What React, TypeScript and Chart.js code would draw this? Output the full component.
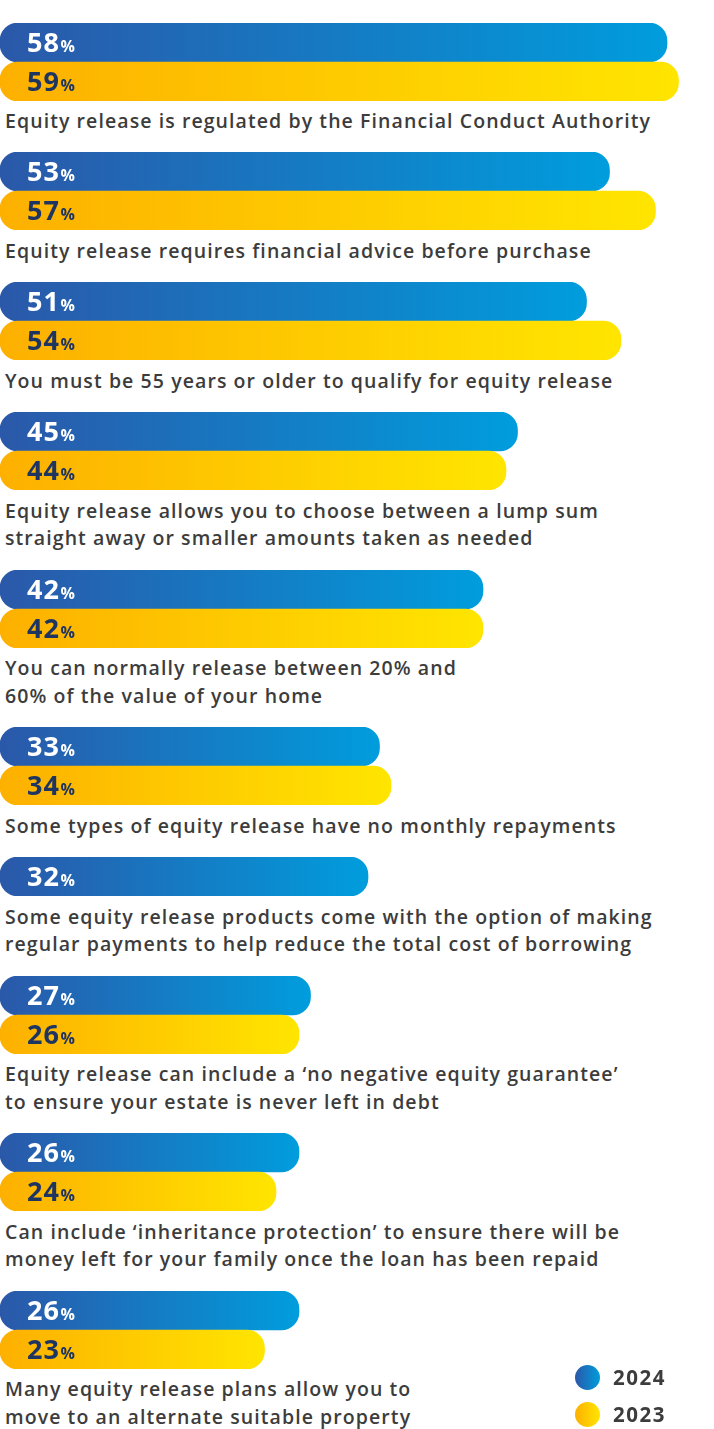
import React, { useEffect, useRef } from "react";
import { Chart, registerables } from "chart.js";

Chart.register(...registerables);

const categories: string[] = [
  "Equity release is regulated by the Financial Conduct Authority",
  "Equity release requires financial advice before purchase",
  "You must be 55 years or older to qualify for equity release",
  "Equity release allows you to choose between a lump sum\nstraight away or smaller amounts taken as needed",
  "You can normally release between 20% and\n60% of the value of your home",
  "Some types of equity release have no monthly repayments",
  "Some equity release products come with the option of making\nregular payments to help reduce the total cost of borrowing",
  "Equity release can include a \u2018no negative equity guarantee\u2019\nto ensure your estate is never left in debt",
  "Can include \u2018inheritance protection\u2019 to ensure there will be\nmoney left for your family once the loan has been repaid",
  "Many equity release plans allow you to\nmove to an alternate suitable property",
];

const seriesNames: string[] = ["2024", "2023"];
const values2024: (number | null)[] = [58, 53, 51, 45, 42, 33, 32, 27, 26, 26];
const values2023: (number | null)[] = [59, 57, 54, 44, 42, 34, null, 26, 24, 23];

const BAR_H = 39;
const WIDTH = 714;
const PX_PER_PCT = 11.5;
const FONT = '"Open Sans", "DejaVu Sans", sans-serif';

const gradStops: [string, string][] = [
  ["#2b58a9", "#009ddd"],
  ["#fdb000", "#ffe500"],
];
const labelColors = ["#ffffff", "#1e3461"];

const labelPlugin = {
  id: "barLabels",
  afterDatasetsDraw(chart: any) {
    const ctx = chart.ctx;
    const meta = chart.getDatasetMeta(0);
    const ds = chart.data.datasets[0];
    meta.data.forEach((el: any, i: number) => {
      const v = ds.data[i];
      const s = ds.series[i];
      const y = el.y + 9.8;
      ctx.save();
      ctx.fillStyle = labelColors[s];
      ctx.textBaseline = "alphabetic";
      ctx.textAlign = "left";
      try { (ctx as any).letterSpacing = "1px"; } catch (e) {}
      ctx.font = `700 27px ${FONT}`;
      const t = String(v);
      ctx.fillText(t, 27, y);
      const w = ctx.measureText(t).width;
      try { (ctx as any).letterSpacing = "0px"; } catch (e) {}
      ctx.font = `700 16px ${FONT}`;
      ctx.fillText("%", 27 + w + 0.5, y);
      ctx.restore();
    });
  },
};

function GroupChart({ idx }: { idx: number }) {
  const ref = useRef<HTMLCanvasElement | null>(null);
  const pairs: { s: number; v: number }[] = [];
  if (values2024[idx] != null) pairs.push({ s: 0, v: values2024[idx] as number });
  if (values2023[idx] != null) pairs.push({ s: 1, v: values2023[idx] as number });
  const h = pairs.length * BAR_H;

  useEffect(() => {
    if (!ref.current) return;
    const chart = new Chart(ref.current, {
      type: "bar",
      data: {
        labels: pairs.map((p) => seriesNames[p.s]),
        datasets: [
          {
            data: pairs.map((p) => p.v),
            series: pairs.map((p) => p.s),
            backgroundColor: (c: any) => {
              const ch = c.chart;
              if (!ch.chartArea || c.dataIndex == null) return gradStops[0][0];
              const p = pairs[c.dataIndex];
              const x1 = ch.scales.x.getPixelForValue(p.v);
              const g = ch.ctx.createLinearGradient(0, 0, x1, 0);
              g.addColorStop(0, gradStops[p.s][0]);
              g.addColorStop(1, gradStops[p.s][1]);
              return g;
            },
            borderRadius: 18,
            borderSkipped: false,
            barPercentage: 1,
            categoryPercentage: 1,
          } as any,
        ],
      },
      options: {
        indexAxis: "y",
        responsive: false,
        animation: false,
        layout: { padding: 0 },
        plugins: { legend: { display: false }, tooltip: { enabled: false } },
        scales: {
          x: { type: "linear", min: 0, max: WIDTH / PX_PER_PCT, display: false },
          y: { type: "category", display: false },
        },
      },
      plugins: [labelPlugin],
    });
    return () => chart.destroy();
  }, []);

  return <canvas ref={ref} width={WIDTH} height={h} style={{ display: "block", width: WIDTH, height: h }} />;
}

export default function App() {
  return (
    <div
      style={{
        position: "absolute",
        left: 0,
        top: 0,
        width: WIDTH,
        height: 1429,
        background: "#ffffff",
        paddingTop: 22.5,
        boxSizing: "border-box",
        fontFamily: FONT,
      }}
    >
      {categories.map((cat, i) => (
        <div key={i}>
          <GroupChart idx={i} />
          <div
            style={{
              whiteSpace: "pre-line",
              fontSize: 19.5,
              fontWeight: 600,
              letterSpacing: "1.08px",
              lineHeight: "27.5px",
              color: "#3c3c3c",
              paddingLeft: 5,
              paddingTop: 6.2,
              paddingBottom: 18.3,
            }}
          >
            {cat}
          </div>
        </div>
      ))}
      {seriesNames.map((name, s) => (
        <div
          key={name}
          style={{
            position: "absolute",
            left: 574.5,
            top: 1364.7 + s * 37.7,
            height: 25,
            display: "flex",
            alignItems: "center",
          }}
        >
          <div
            style={{
              width: 25,
              height: 25,
              borderRadius: "50%",
              background: `linear-gradient(to right, ${gradStops[s][0]}, ${gradStops[s][1]})`,
            }}
          />
          <span
            style={{
              marginLeft: 13.5,
              fontSize: 20.5,
              fontWeight: 700,
              letterSpacing: "1.5px",
              lineHeight: "25px",
              color: "#3c3c3c",
            }}
          >
            {name}
          </span>
        </div>
      ))}
    </div>
  );
}
